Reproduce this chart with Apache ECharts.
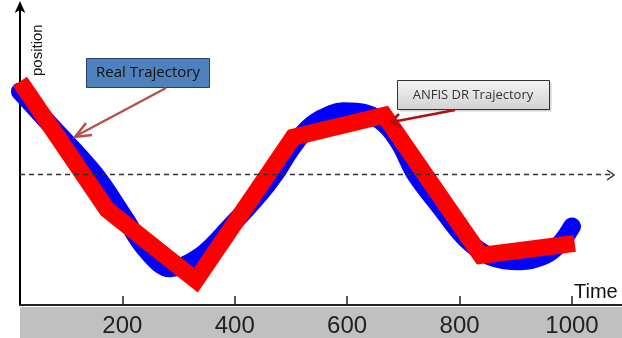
<!DOCTYPE html>
<html>
<head>
<meta charset="utf-8">
<script src="https://cdn.jsdelivr.net/npm/echarts@6/dist/echarts.min.js"></script>
<style>
html,body{margin:0;padding:0;background:#fff;}
#chart{width:622px;height:338px;}
</style>
</head>
<body>
<div id="chart"></div>
<script>
// Data
var tickValues = [200, 400, 600, 800, 1000];
var realX = [18, 71, 151, 205, 240, 285, 338, 392, 445, 472, 498, 525, 552, 593, 632, 667, 694, 721, 765, 810, 854, 908, 952, 979, 1000];
var realY = [215, 182, 132, 87, 57, 37, 49, 79, 112, 132, 155, 175, 187, 195, 193, 182, 162, 132, 99, 67, 49, 44, 50, 62, 79];
var anfisX = [18, 173, 331, 504, 666, 838, 1005];
var anfisY = [225, 96, 25, 169, 191, 50, 62];
var refLevel = 132;

function pairs(xs, ys){ return xs.map(function(x,i){ return [x, ys[i]]; }); }

var chart = echarts.init(document.getElementById('chart'), null, {renderer:'canvas'});
chart.setOption({
  animation: false,
  backgroundColor: '#ffffff',
  grid: {left: 20, right: 0, top: 7, height: 300},
  xAxis: {
    type: 'value', min: 18, max: 1089,
    splitLine: {show: false},
    axisLine: {show: true, lineStyle: {color: '#222', width: 2}},
    axisTick: {show: true, inside: true, length: 9, customValues: tickValues, lineStyle: {color: '#222', width: 1.5}},
    axisLabel: {show: true, customValues: tickValues, margin: 9, color: '#222',
      formatter: function(v){ return String(v); },
      fontFamily: '"Liberation Sans Narrow", "Liberation Sans", Arial, sans-serif', fontSize: 24}
  },
  yAxis: {
    type: 'value', min: 0, max: 300,
    splitLine: {show: false},
    axisLine: {show: true, symbol: ['none', 'arrow'], symbolSize: [8, 12], symbolOffset: [0, 6], lineStyle: {color: '#000', width: 2}},
    axisTick: {show: false},
    axisLabel: {show: false}
  },
  graphic: [
    {type: 'rect', z: -10, shape: {x: 20, y: 307, width: 602, height: 31}, style: {fill: '#c0c0c0'}},
    {type: 'text', x: 574, y: 282, style: {text: 'Time', fontSize: 20, fontFamily: '"Liberation Sans", Arial, sans-serif', fill: '#111'}},
    {type: 'text', x: 30, y: 76, rotation: Math.PI/2, style: {text: 'position', fontSize: 15, fontFamily: '"Liberation Sans", Arial, sans-serif', fill: '#111'}},
    {type: 'polyline', z: 5, shape: {points: [[607, 170], [614, 175], [607, 180]]}, style: {stroke: '#333', lineWidth: 1.5, fill: null}},
    // Real Trajectory label
    {type: 'rect', z: 20, shape: {x: 86.5, y: 58.5, width: 123, height: 29}, style: {fill: '#4f81bd', stroke: '#24406a', lineWidth: 1}},
    {type: 'text', z: 21, x: 148, y: 73, style: {text: 'Real Trajectory', fontSize: 15, fontFamily: '"Open Sans", "Liberation Sans", sans-serif', fill: '#111', align: 'center', verticalAlign: 'middle'}},
    {type: 'line', z: 20, shape: {x1: 166, y1: 88, x2: 76, y2: 136}, style: {stroke: '#b5504c', lineWidth: 2.5}},
    {type: 'polyline', z: 20, shape: {points: [[86, 123], [75, 137], [92, 135]]}, style: {stroke: '#b5504c', lineWidth: 2.5, fill: null}},
    // ANFIS label
    {type: 'rect', z: 19, shape: {x: 399.5, y: 82.5, width: 152, height: 29}, style: {fill: 'rgba(0,0,0,0.18)'}},
    {type: 'rect', z: 20, shape: {x: 397.5, y: 80.5, width: 152, height: 29}, style: {
      fill: new echarts.graphic.LinearGradient(0, 0, 0, 1, [{offset: 0, color: '#f4f4f4'}, {offset: 1, color: '#d2d2d2'}]),
      stroke: '#333', lineWidth: 1}},
    {type: 'text', z: 21, x: 473, y: 95, style: {text: 'ANFIS DR Trajectory', fontSize: 13, fontFamily: '"Open Sans", "Liberation Sans", sans-serif', fill: '#333', align: 'center', verticalAlign: 'middle'}},
    {type: 'line', z: 20, shape: {x1: 455, y1: 110, x2: 392, y2: 122}, style: {stroke: '#b01010', lineWidth: 2.5}},
    {type: 'polyline', z: 20, shape: {points: [[399, 114], [391, 122], [401, 127]]}, style: {stroke: '#b01010', lineWidth: 2.5, fill: null}}
  ],
  series: [
    {
      name: 'Real Trajectory', type: 'line', data: pairs(realX, realY), smooth: 0.35,
      showSymbol: false, symbol: 'none', z: 2,
      lineStyle: {color: '#0000ff', width: 18, cap: 'round', join: 'round'},
      markLine: {
        silent: true, symbol: ['none', 'none'], label: {show: false},
        lineStyle: {color: '#333', type: [5, 4], width: 1.3},
        data: [[{coord: [18, refLevel]}, {coord: [1070, refLevel]}]]
      }
    },
    {
      name: 'ANFIS DR Trajectory', type: 'line', data: pairs(anfisX, anfisY),
      showSymbol: false, symbol: 'none', z: 3,
      lineStyle: {color: '#ff0000', width: 17, join: 'miter', cap: 'butt'}
    }
  ]
});
</script>
</body>
</html>
